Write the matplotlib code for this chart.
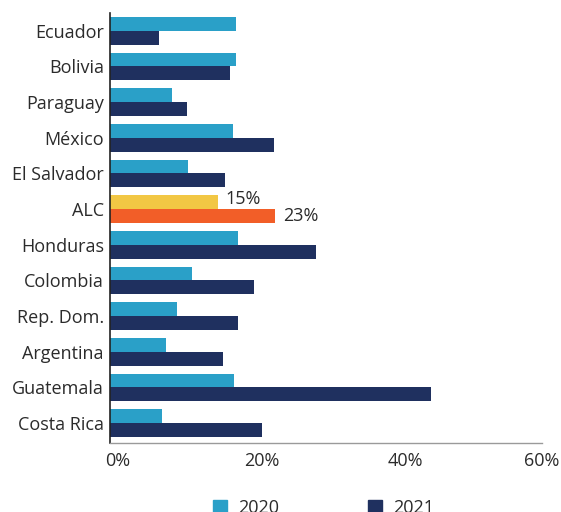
#!/usr/bin/env python3
# -*- coding: utf-8 -*-

import matplotlib
matplotlib.use('Agg')
import matplotlib.pyplot as plt
import matplotlib.transforms as mtransforms
from matplotlib.patches import Patch
import numpy as np

countries = ['Ecuador', 'Bolivia', 'Paraguay', 'México', 'El Salvador', 'ALC',
             'Honduras', 'Colombia', 'Rep. Dom.', 'Argentina', 'Guatemala', 'Costa Rica']
vals_2020 = [17.6, 17.6, 8.7, 17.2, 10.9, 15.0, 17.9, 11.5, 9.4, 7.9, 17.3, 7.3]
vals_2021 = [6.9, 16.8, 10.8, 22.9, 16.1, 23.0, 28.7, 20.1, 17.9, 15.8, 44.6, 21.2]
xticks = [0, 20, 40, 60]
xtick_labels = ['0%', '20%', '40%', '60%']
series_labels = ['2020', '2021']

c2020 = '#2aa0c8'
c2021 = '#1f305f'
c_alc20 = '#f2c744'
c_alc21 = '#f25e28'
txt = '#2b2b2b'
fs = 13

plt.rcParams['font.family'] = ['Open Sans', 'DejaVu Sans']

fig = plt.figure(figsize=(5.61, 5.12), dpi=100)
ax = fig.add_axes([109.5 / 561, 1 - 442.7 / 512, (541.5 - 109.5) / 561, (442.7 - 13) / 512])

y = np.arange(len(countries))
h = 0.39
cols20 = [c_alc20 if c == 'ALC' else c2020 for c in countries]
cols21 = [c_alc21 if c == 'ALC' else c2021 for c in countries]
ax.barh(y - h / 2, vals_2020, height=h, color=cols20)
ax.barh(y + h / 2, vals_2021, height=h, color=cols21)

i = countries.index('ALC')
ax.annotate(f"{vals_2020[i]:.0f}%", (vals_2020[i], i - h / 2), xytext=(6, 2), textcoords='offset points',
            va='center', ha='left', fontsize=fs, color=txt)
ax.annotate(f"{vals_2021[i]:.0f}%", (vals_2021[i], i + h / 2), xytext=(6, 0), textcoords='offset points',
            va='center', ha='left', fontsize=fs, color=txt)

ax.set_xlim(0, 60)
ax.set_ylim(11.55, -0.5)
ax.set_yticks(y)
ax.set_yticklabels(countries, fontsize=fs, color=txt)
ax.set_xticks(xticks)
ax.set_xticklabels(xtick_labels, fontsize=fs, color=txt)
ax.tick_params(axis='y', length=0, pad=4)
ax.tick_params(axis='x', length=0, pad=7)

# shift x labels a bit right like the original, last one stays in bounds
for lab in ax.get_xticklabels()[:-1]:
    lab.set_transform(lab.get_transform() + mtransforms.ScaledTranslation(8 / 100, 0, fig.dpi_scale_trans))

for s in ['top', 'right']:
    ax.spines[s].set_visible(False)
ax.spines['left'].set_color('#222222')
ax.spines['left'].set_linewidth(1.2)
ax.spines['bottom'].set_color('#9a9a9a')
ax.spines['bottom'].set_linewidth(1.0)

handles = [Patch(color=c2020), Patch(color=c2021)]
fig.legend(handles, series_labels, loc='upper left', bbox_to_anchor=(213 / 561, 1 - 499 / 512),
           ncol=2, frameon=False, fontsize=fs, handlelength=0.8, handleheight=0.8,
           handletextpad=0.6, columnspacing=4.9, borderpad=0, borderaxespad=0, labelcolor=txt)

plt.savefig('out.png', dpi=100)
